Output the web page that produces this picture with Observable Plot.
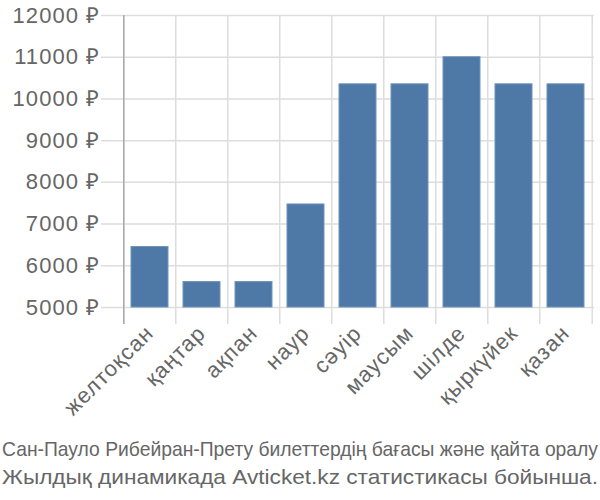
<!DOCTYPE html>
<html>
<head>
<meta charset="utf-8">
<script src="https://cdn.jsdelivr.net/npm/d3@7"></script>
<script src="https://cdn.jsdelivr.net/npm/@observablehq/plot@0.6"></script>
<style>
  body { margin: 0; background: white; }
  #caption { font-family: "Liberation Sans Narrow", "Liberation Sans", sans-serif; font-size: 21px; color: #666; line-height: 28px; width: 600px; }
  #caption div { white-space: nowrap; }
  #caption span { display: inline-block; transform-origin: 0 50%; margin-left: 2px; }
  #chart svg g[aria-label="y-axis tick label"] text,
  #chart svg g[aria-label="x-axis tick label"] text { letter-spacing: 1.1px; }
</style>
</head>
<body>
<div id="chart"></div>
<div id="caption"><div><span>Сан-Пауло Рибейран-Прету билеттердің бағасы және қайта оралу</span></div><div><span>Жылдық динамикада Avticket.kz статистикасы бойынша.</span></div></div>
<script>
const months = ["желтоқсан", "қаңтар", "ақпан", "наур", "сәуір", "маусым", "шілде", "қыркүйек", "қазан"];
const prices = [6450, 5610, 5610, 7470, 10350, 10350, 11000, 10350, 10350];
const yTicks = [5000, 6000, 7000, 8000, 9000, 10000, 11000, 12000];

const data = months.map((m, i) => ({month: m, price: prices[i]}));

const W = 600, ML = 122, MR = 6;
const step = (W - ML - MR) / months.length;

const chart = Plot.plot({
  width: W,
  height: 435,
  marginLeft: ML,
  marginRight: MR,
  marginTop: 15,
  marginBottom: 128,
  style: {fontFamily: "'Liberation Sans', Arial, sans-serif", fontSize: "22px", color: "#666", background: "white"},
  x: {domain: months, paddingInner: 0.28, paddingOuter: 0.14, label: null},
  y: {domain: [5000, 12000], label: null},
  marks: [
    Plot.ruleY(yTicks, {stroke: "#ddd", strokeWidth: 1.5, insetLeft: -21}),
    Plot.ruleX(months, {x: d => d, dx: -step / 2, stroke: "#ddd", strokeWidth: 1.5, insetBottom: -17}),
    Plot.ruleX([months[months.length - 1]], {x: d => d, dx: step / 2, stroke: "#ddd", strokeWidth: 1.5, insetBottom: -17}),
    Plot.ruleX([months[0]], {x: d => d, dx: -step / 2, stroke: "#aaa", strokeWidth: 1.5, insetBottom: -17}),
    Plot.barY(data, {x: "month", y1: 5000, y2: "price", fill: "#4e79a7", stroke: "#6f93bb", strokeWidth: 1}),
    Plot.axisY(yTicks, {tickSize: 0, tickPadding: 22, tickFormat: d => `${d} ₽`, fontSize: 22, fill: "#666"}),
    Plot.axisX({tickSize: 0, tickPadding: 22, tickRotate: -45, fontSize: 22, fill: "#666", label: null})
  ]
});
document.getElementById("chart").appendChild(chart);

for (const s of document.querySelectorAll("#caption span")) {
  const w = s.getBoundingClientRect().width;
  const k = 596 / w;
  s.style.transform = `scaleX(${k})`;
}
</script>
</body>
</html>
